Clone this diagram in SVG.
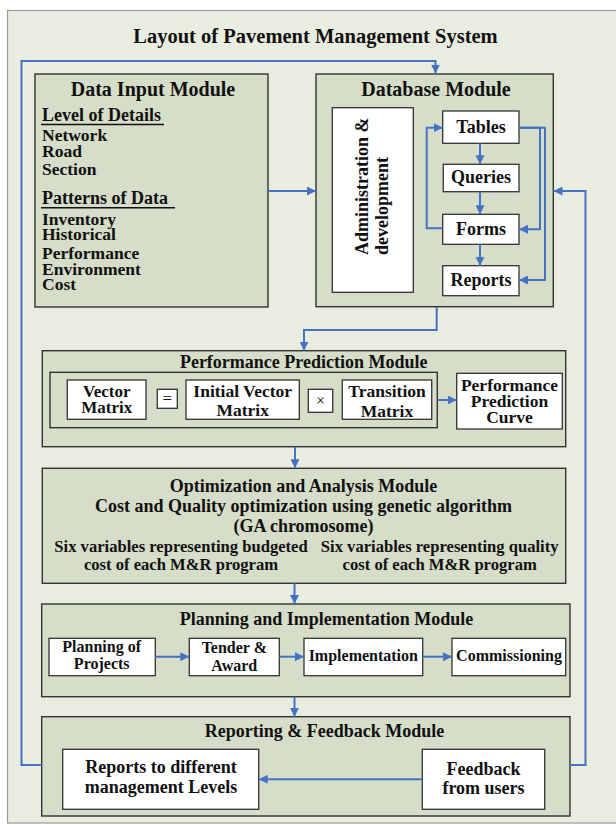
<svg xmlns="http://www.w3.org/2000/svg" width="616" height="825" viewBox="0 0 616 825">
<defs>
<style>
.t{font-family:"Liberation Serif","Times New Roman",serif;font-weight:bold;fill:#111;}
.m{text-anchor:middle;}
.mod{fill:#d6ddc8;stroke:#333;stroke-width:1.4;}
.wb{fill:#fff;stroke:#333;stroke-width:1.3;}
.c{fill:none;stroke:#4472c4;stroke-width:2;}
.ul{stroke:#111;stroke-width:1.5;}
</style>
<marker id="ah" viewBox="0 0 10 10" refX="10" refY="5" markerWidth="9" markerHeight="9" markerUnits="userSpaceOnUse" orient="auto">
<path d="M0,0 L10,5 L0,10 z" fill="#4472c4"/>
</marker>
</defs>
<rect x="0" y="0" width="616" height="825" fill="#fff"/>
<rect x="7.5" y="10.5" width="620" height="812.5" fill="#e9ede0" stroke="#9a9a9a" stroke-width="1.2"/>
<text class="t m" x="315.5" y="43" font-size="20.5">Layout of Pavement Management System</text>

<g id="data-input">
<rect class="mod" x="35" y="74" width="233" height="233"/>
<text class="t m" x="153" y="96" font-size="20">Data Input Module</text>
<text class="t" x="42" y="120.5" font-size="18">Level of Details</text>
<line class="ul" x1="41" y1="124.5" x2="164" y2="124.5"/>
<text class="t" x="42" y="141" font-size="17.5">Network</text>
<text class="t" x="42" y="157" font-size="17.5">Road</text>
<text class="t" x="42" y="175" font-size="17.5">Section</text>
<text class="t" x="42" y="203.5" font-size="18">Patterns of Data</text>
<line class="ul" x1="41" y1="207.7" x2="175" y2="207.7"/>
<text class="t" x="42" y="224.5" font-size="17.5">Inventory</text>
<text class="t" x="42" y="240" font-size="17.5">Historical</text>
<text class="t" x="42" y="258.5" font-size="17.5">Performance</text>
<text class="t" x="42" y="274.5" font-size="17.5">Environment</text>
<text class="t" x="42" y="290" font-size="17.5">Cost</text>
</g>

<g id="database">
<rect class="mod" x="316" y="74" width="237.3" height="232.7"/>
<text class="t m" x="436" y="96" font-size="20">Database Module</text>
<rect class="wb" x="332.3" y="107.7" width="81" height="184.6"/>
<text class="t" transform="translate(368,255) rotate(-90)" font-size="18">Administration &amp;</text>
<text class="t" transform="translate(388,255) rotate(-90)" font-size="18">development</text>
<g id="tables"><rect class="wb" x="442.7" y="111" width="76.3" height="32.3"/><text class="t m" x="481" y="133.3" font-size="18">Tables</text></g>
<g id="queries"><rect class="wb" x="443.3" y="164.3" width="75.7" height="27.4" stroke-width="2"/><text class="t m" x="481" y="182.7" font-size="18">Queries</text></g>
<g id="forms"><rect class="wb" x="442.7" y="214.3" width="76.3" height="30"/><text class="t m" x="481" y="235" font-size="18">Forms</text></g>
<g id="reports"><rect class="wb" x="442.7" y="265.7" width="76.3" height="30"/><text class="t m" x="481" y="286" font-size="18">Reports</text></g>
</g>

<g id="performance">
<rect class="mod" x="42.3" y="350.7" width="523.4" height="96"/>
<text class="t m" x="303.7" y="368.3" font-size="18">Performance Prediction Module</text>
<rect class="mod" x="50" y="372.3" width="387.3" height="55.4"/>
<g id="vector-matrix"><rect class="wb" x="67.3" y="380" width="78.7" height="39.3"/>
<text class="t m" x="106.7" y="396.7" font-size="17">Vector</text><text class="t m" x="106.7" y="412.5" font-size="17">Matrix</text></g>
<g id="eq"><rect class="wb" x="157.3" y="389.3" width="20" height="19"/><text class="m" x="167.3" y="404" font-size="17" font-family="Liberation Serif, serif" fill="#111">=</text></g>
<g id="initial-vector"><rect class="wb" x="186" y="380" width="113.3" height="39.3"/>
<text class="t m" x="242.7" y="396.7" font-size="17.5">Initial Vector</text><text class="t m" x="242.7" y="415.7" font-size="17.5">Matrix</text></g>
<g id="times"><rect class="wb" x="308.3" y="389.3" width="24.4" height="23"/><text class="m" x="320.5" y="405.5" font-size="16" font-family="Liberation Serif, serif" fill="#111">×</text></g>
<g id="transition"><rect class="wb" x="342.3" y="380" width="89.4" height="39.3"/>
<text class="t m" x="387" y="396.7" font-size="17.5">Transition</text><text class="t m" x="387" y="416.7" font-size="17.5">Matrix</text></g>
<g id="ppc"><rect class="wb" x="456.7" y="373.3" width="105.6" height="55.7"/>
<text class="t m" x="509.5" y="390.7" font-size="17.5">Performance</text><text class="t m" x="509.5" y="406.7" font-size="17.5">Prediction</text><text class="t m" x="509.5" y="422.7" font-size="17.5">Curve</text></g>
</g>

<g id="optimization">
<rect class="mod" x="42.3" y="468.3" width="523.4" height="115"/>
<text class="t m" x="303.5" y="491.7" font-size="18">Optimization and Analysis Module</text>
<text class="t m" x="303.5" y="511.7" font-size="18">Cost and Quality optimization using genetic algorithm</text>
<text class="t m" x="303.5" y="531.7" font-size="18">(GA chromosome)</text>
<text class="t m" x="181" y="551.7" font-size="16.6">Six variables representing budgeted</text>
<text class="t m" x="181" y="570" font-size="16.6">cost of each M&amp;R program</text>
<text class="t m" x="439.7" y="551.7" font-size="16.6">Six variables representing quality</text>
<text class="t m" x="439.7" y="570" font-size="16.6">cost of each M&amp;R program</text>
</g>

<g id="planning">
<rect class="mod" x="41.7" y="604" width="528.3" height="92.7"/>
<text class="t m" x="326.5" y="625" font-size="18">Planning and Implementation Module</text>
<g id="planning-projects"><rect class="wb" x="49" y="638.3" width="106.3" height="37.4"/>
<text class="t m" x="101.7" y="652.3" font-size="16">Planning of</text><text class="t m" x="101.7" y="669.3" font-size="16">Projects</text></g>
<g id="tender"><rect class="wb" x="189.3" y="638.3" width="90" height="37.4"/>
<text class="t m" x="234.3" y="653.3" font-size="16">Tender &amp;</text><text class="t m" x="234.3" y="671" font-size="16">Award</text></g>
<g id="implementation"><rect class="wb" x="304" y="638.3" width="118.7" height="37.4"/>
<text class="t m" x="363.3" y="661" font-size="16">Implementation</text></g>
<g id="commissioning"><rect class="wb" x="452" y="638.3" width="113.7" height="37.4"/>
<text class="t m" x="509" y="661" font-size="16">Commissioning</text></g>
</g>

<g id="reporting">
<rect class="mod" x="41.7" y="716.7" width="528.3" height="99.3"/>
<text class="t m" x="324.5" y="737.3" font-size="18">Reporting &amp; Feedback Module</text>
<g id="reports-levels"><rect class="wb" x="62.7" y="749.3" width="196" height="60"/>
<text class="t m" x="161" y="773.3" font-size="18">Reports to different</text><text class="t m" x="161" y="793.3" font-size="18">management Levels</text></g>
<g id="feedback"><rect class="wb" x="422.3" y="749.3" width="122.4" height="60"/>
<text class="t m" x="483.5" y="775" font-size="18">Feedback</text><text class="t m" x="483.5" y="794" font-size="18">from users</text></g>
</g>

<g id="connectors">
<path class="c" d="M41.7,765 H21.5 V61 H435.5 V73.5" marker-end="url(#ah)"/>
<path class="c" d="M570,765 H585.5 V191 H553.5" marker-end="url(#ah)"/>
<path class="c" d="M268,191 H316" marker-end="url(#ah)"/>
<path class="c" d="M480,143.3 V164.3" marker-end="url(#ah)"/>
<path class="c" d="M480,191.7 V214.3" marker-end="url(#ah)"/>
<path class="c" d="M480,244.3 V265.7" marker-end="url(#ah)"/>
<path class="c" d="M442.7,228.3 H426.7 V127.7 H442.7" marker-end="url(#ah)"/>
<path class="c" d="M519,127.7 H540 V229.3 H519" marker-end="url(#ah)"/>
<path class="c" d="M519,127.7 H545 V280 H519" marker-end="url(#ah)"/>
<path class="c" d="M436.7,307 V330 H304 V350.7" marker-end="url(#ah)"/>
<path class="c" d="M437.3,400 H456.7" marker-end="url(#ah)"/>
<path class="c" d="M295,446.7 V468.3" marker-end="url(#ah)"/>
<path class="c" d="M294.5,583.3 V604" marker-end="url(#ah)"/>
<path class="c" d="M155.3,656.7 H189.3" marker-end="url(#ah)"/>
<path class="c" d="M279.3,656.7 H304" marker-end="url(#ah)"/>
<path class="c" d="M422.7,656.7 H452" marker-end="url(#ah)"/>
<path class="c" d="M294.5,696.7 V716.7" marker-end="url(#ah)"/>
<path class="c" d="M422.3,779.3 H258.7" marker-end="url(#ah)"/>
</g>
</svg>
